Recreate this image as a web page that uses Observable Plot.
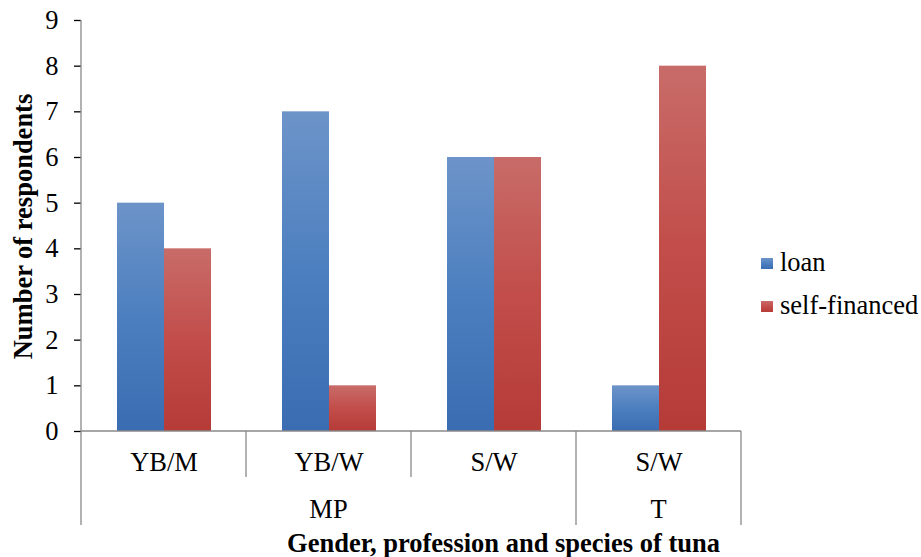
<!DOCTYPE html>
<html>
<head>
<meta charset="utf-8">
<script src="https://cdn.jsdelivr.net/npm/d3@7"></script>
<script src="https://cdn.jsdelivr.net/npm/@observablehq/plot@0.6"></script>
<style>
  body { margin: 0; background: #fff; }
  #chart svg { display: block; }
  #chart svg text { font-family: "Liberation Serif", "Times New Roman", serif !important; }
</style>
</head>
<body>
<div id="chart"></div>
<script>
// ---- data ----
const categoryKeys = ["c1", "c2", "c3", "c4"];
const categoryLabels = ["YB/M", "YB/W", "S/W", "S/W"];
const groupLabels = ["MP", "T"];
const groupFirst = [0, 3];
const groupLast = [2, 3];
const seriesNames = ["loan", "self-financed"];
const loanValues = [5, 7, 6, 1];
const selfFinancedValues = [4, 1, 6, 8];
const yTicks = [0, 1, 2, 3, 4, 5, 6, 7, 8, 9];
const xTitle = "Gender, profession and species of tuna";
const yTitle = "Number of respondents";

const rows = categoryKeys.flatMap((k, i) => [
  { cat: k, series: seriesNames[0], value: loanValues[i] },
  { cat: k, series: seriesNames[1], value: selfFinancedValues[i] }
]);

const FONT = "\"Liberation Serif\", \"Times New Roman\", serif";
const AXIS_GREY = "#898989";

const plot = Plot.plot({
  width: 921,
  height: 557,
  marginLeft: 80,
  marginRight: 179,
  marginTop: 20,
  marginBottom: 126,
  style: { fontFamily: FONT, fontSize: "26.5px", color: "#000", background: "#fff", overflow: "visible" },
  fx: { domain: categoryKeys, padding: 0, label: null, axis: null },
  x: { domain: seriesNames, paddingInner: 0, paddingOuter: 0.742, axis: null },
  y: { domain: [0, 9], axis: null },
  marks: [
    Plot.axisY(yTicks, { tickSize: 7, tickPadding: 16, label: null, fontSize: 26.5 }),
    Plot.axisFx({ anchor: "bottom", tickSize: 0, tickPadding: 21, label: null, fontSize: 26.5,
      tickFormat: k => categoryLabels[categoryKeys.indexOf(k)] }),
    Plot.barY(rows.filter(d => d.series === seriesNames[0]),
      { fx: "cat", x: "series", y: "value", fill: "url(#gradLoan)" }),
    Plot.barY(rows.filter(d => d.series === seriesNames[1]),
      { fx: "cat", x: "series", y: "value", fill: "url(#gradSelf)" })
  ]
});

document.getElementById("chart").appendChild(plot);

const svg = d3.select(plot);
// gradients
const defs = svg.insert("defs", ":first-child");
function grad(id, stops) {
  const g = defs.append("linearGradient").attr("id", id)
    .attr("x1", 0).attr("y1", 0).attr("x2", 0).attr("y2", 1);
  stops.forEach(([o, c]) => g.append("stop").attr("offset", o).attr("stop-color", c));
}
grad("gradLoan", [[0, "#6D94C9"], [0.5, "#4C7FBF"], [1, "#3A6CB2"]]);
grad("gradSelf", [[0, "#C86C69"], [0.5, "#C24D4A"], [1, "#B53B37"]]);

// y-axis tick color
svg.selectAll("[aria-label='y-axis tick']").attr("stroke", AXIS_GREY).attr("stroke-width", 1.3);

const fx = plot.scale("fx");
const y = plot.scale("y");
const bw = fx.bandwidth;
const left = fx.apply(categoryKeys[0]);
const right = fx.apply(categoryKeys[categoryKeys.length - 1]) + bw;
const y0 = y.apply(0);
const yTop = y.apply(9);
const innerDrop = 46;
const outerDrop = 94;

const g = svg.append("g").attr("stroke", AXIS_GREY).attr("stroke-width", 1.3).attr("fill", "none");
// y axis line
g.append("line").attr("x1", left).attr("x2", left).attr("y1", yTop).attr("y2", y0 + outerDrop);
// baseline
g.append("line").attr("x1", left).attr("x2", right).attr("y1", y0).attr("y2", y0);
// dividers
categoryKeys.forEach((k, i) => {
  const xe = fx.apply(k) + bw;
  const isGroupEnd = groupLast.includes(i);
  g.append("line").attr("x1", xe).attr("x2", xe).attr("y1", y0)
    .attr("y2", y0 + (isGroupEnd ? outerDrop : innerDrop));
});

const t = svg.append("g").attr("fill", "#000");
// group labels
groupLabels.forEach((lab, gi) => {
  const xa = fx.apply(categoryKeys[groupFirst[gi]]);
  const xb = fx.apply(categoryKeys[groupLast[gi]]) + bw;
  t.append("text").attr("x", (xa + xb) / 2).attr("y", y0 + 87)
    .attr("text-anchor", "middle").attr("font-size", 26.5).text(lab);
});
// axis titles
t.append("text").attr("x", 503.5).attr("y", 552)
  .attr("text-anchor", "middle").attr("font-size", 26.5).attr("font-weight", "bold").text(xTitle);
t.append("text").attr("transform", `translate(32,${(yTop + y0) / 2 + 1}) rotate(-90)`)
  .attr("text-anchor", "middle").attr("font-size", 26.5).attr("font-weight", "bold").text(yTitle);

// legend
const lg = svg.append("g");
seriesNames.forEach((s, i) => {
  const yy = 258 + i * 43;
  lg.append("rect").attr("x", 761).attr("y", yy).attr("width", 12).attr("height", 11)
    .attr("fill", i === 0 ? "url(#gradLoan)" : "url(#gradSelf)");
  lg.append("text").attr("x", 780).attr("y", yy + 13).attr("text-anchor", "start")
    .attr("font-size", 26.5).attr("fill", "#000").text(s);
});
</script>
</body>
</html>
